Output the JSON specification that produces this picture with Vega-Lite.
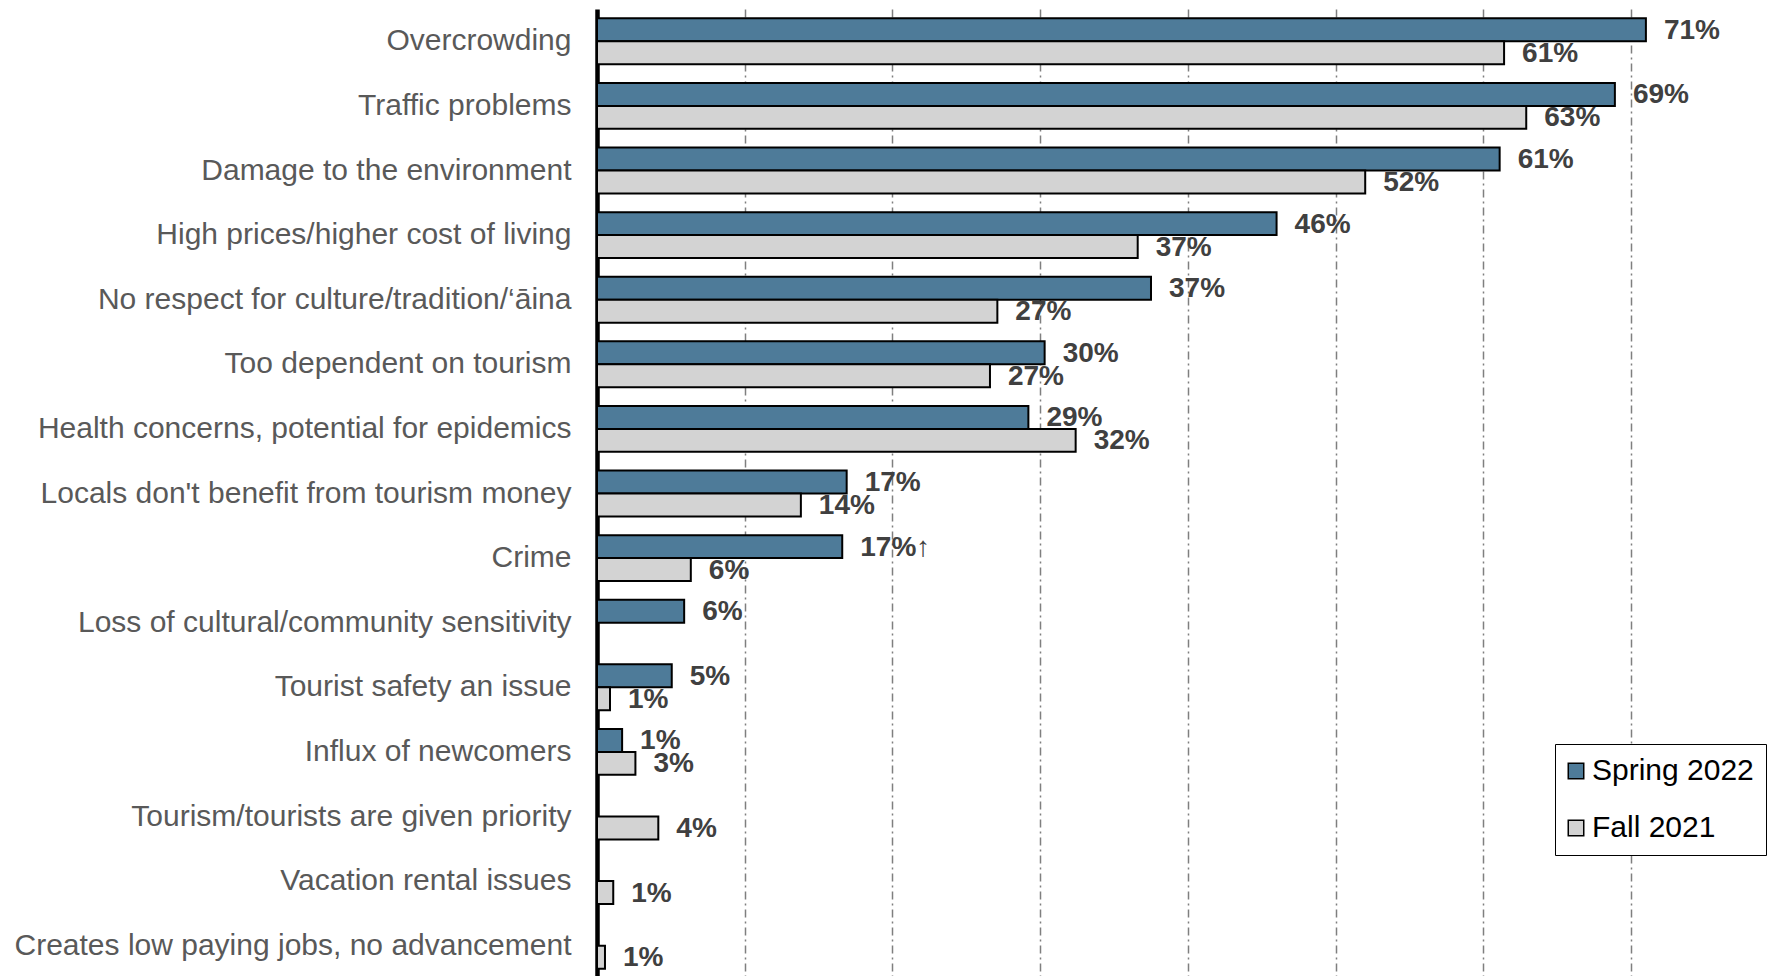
{
  "$schema": "https://vega.github.io/schema/vega-lite/v6.json",
  "width": 1173,
  "height": 969,
  "autosize": {"type": "none"},
  "padding": {"left": 597, "top": 9, "right": 0, "bottom": 0},
  "background": "white",
  "config": {
    "view": {"stroke": null},
    "font": "Liberation Sans",
    "legend": {
      "orient": "none",
      "legendX": 958,
      "legendY": 735,
      "title": null,
      "strokeColor": "black",
      "fillColor": "white",
      "padding": 12,
      "symbolType": "square",
      "symbolSize": 240,
      "symbolOffset": -6,
      "symbolStrokeColor": "black",
      "symbolStrokeWidth": 1.5,
      "labelFontSize": 30,
      "labelColor": "black",
      "labelOffset": 1,
      "rowPadding": 27,
      "labelLimit": 400
    }
  },
  "data": {
    "values": [
      {"issue": "Overcrowding", "wave": "Spring 2022", "pct": 71.0, "label": "71%"},
      {"issue": "Overcrowding", "wave": "Fall 2021", "pct": 61.4, "label": "61%"},
      {"issue": "Traffic problems", "wave": "Spring 2022", "pct": 68.9, "label": "69%"},
      {"issue": "Traffic problems", "wave": "Fall 2021", "pct": 62.9, "label": "63%"},
      {"issue": "Damage to the environment", "wave": "Spring 2022", "pct": 61.1, "label": "61%"},
      {"issue": "Damage to the environment", "wave": "Fall 2021", "pct": 52.0, "label": "52%"},
      {"issue": "High prices/higher cost of living", "wave": "Spring 2022", "pct": 46.0, "label": "46%"},
      {"issue": "High prices/higher cost of living", "wave": "Fall 2021", "pct": 36.6, "label": "37%"},
      {"issue": "No respect for culture/tradition/‘āina", "wave": "Spring 2022", "pct": 37.5, "label": "37%"},
      {"issue": "No respect for culture/tradition/‘āina", "wave": "Fall 2021", "pct": 27.1, "label": "27%"},
      {"issue": "Too dependent on tourism", "wave": "Spring 2022", "pct": 30.3, "label": "30%"},
      {"issue": "Too dependent on tourism", "wave": "Fall 2021", "pct": 26.6, "label": "27%"},
      {"issue": "Health concerns, potential for epidemics", "wave": "Spring 2022", "pct": 29.2, "label": "29%"},
      {"issue": "Health concerns, potential for epidemics", "wave": "Fall 2021", "pct": 32.4, "label": "32%"},
      {"issue": "Locals don't benefit from tourism money", "wave": "Spring 2022", "pct": 16.9, "label": "17%"},
      {"issue": "Locals don't benefit from tourism money", "wave": "Fall 2021", "pct": 13.8, "label": "14%"},
      {"issue": "Crime", "wave": "Spring 2022", "pct": 16.6, "label": "17%↑"},
      {"issue": "Crime", "wave": "Fall 2021", "pct": 6.35, "label": "6%"},
      {"issue": "Loss of cultural/community sensitivity", "wave": "Spring 2022", "pct": 5.9, "label": "6%"},
      {"issue": "Tourist safety an issue", "wave": "Spring 2022", "pct": 5.06, "label": "5%"},
      {"issue": "Tourist safety an issue", "wave": "Fall 2021", "pct": 0.88, "label": "1%"},
      {"issue": "Influx of newcomers", "wave": "Spring 2022", "pct": 1.7, "label": "1%"},
      {"issue": "Influx of newcomers", "wave": "Fall 2021", "pct": 2.6, "label": "3%"},
      {"issue": "Tourism/tourists are given priority", "wave": "Fall 2021", "pct": 4.15, "label": "4%"},
      {"issue": "Vacation rental issues", "wave": "Fall 2021", "pct": 1.1, "label": "1%"},
      {"issue": "Creates low paying jobs, no advancement", "wave": "Fall 2021", "pct": 0.54, "label": "1%"}
    ]
  },
  "encoding": {
    "y": {
      "field": "issue",
      "type": "nominal",
      "sort": [
        "Overcrowding",
        "Traffic problems",
        "Damage to the environment",
        "High prices/higher cost of living",
        "No respect for culture/tradition/‘āina",
        "Too dependent on tourism",
        "Health concerns, potential for epidemics",
        "Locals don't benefit from tourism money",
        "Crime",
        "Loss of cultural/community sensitivity",
        "Tourist safety an issue",
        "Influx of newcomers",
        "Tourism/tourists are given priority",
        "Vacation rental issues",
        "Creates low paying jobs, no advancement"
      ],
      "scale": {"paddingInner": 0.29, "paddingOuter": 0.145},
      "axis": {
        "title": null,
        "labelFontSize": 30,
        "labelColor": "#595959",
        "labelPadding": 26,
        "ticks": false,
        "tickSize": 0,
        "domainColor": "black",
        "domainWidth": 4.5,
        "labelLimit": 800,
        "grid": false
      }
    },
    "yOffset": {
      "field": "wave",
      "type": "nominal",
      "sort": ["Spring 2022", "Fall 2021"],
      "scale": {"paddingInner": 0, "paddingOuter": 0}
    },
    "x": {
      "field": "pct",
      "type": "quantitative",
      "scale": {"domain": [0, 79.4], "nice": false, "zero": true},
      "axis": {
        "title": null,
        "orient": "top",
        "labels": false,
        "ticks": false,
        "domain": false,
        "grid": true,
        "values": [10, 20, 30, 40, 50, 60, 70],
        "gridColor": "#7f7f7f",
        "gridDash": [8, 4, 2, 4],
        "gridWidth": 1.5
      }
    }
  },
  "layer": [
    {
      "mark": {"type": "bar", "stroke": "black", "strokeWidth": 2},
      "encoding": {
        "color": {
          "field": "wave",
          "type": "nominal",
          "scale": {"domain": ["Spring 2022", "Fall 2021"], "range": ["#4E7B99", "#D3D3D3"]},
          "legend": {"title": null}
        }
      }
    },
    {
      "mark": {"type": "text", "align": "left", "baseline": "middle", "dx": 18, "dy": 1, "fontSize": 28, "fontWeight": "bold", "color": "#404040"},
      "encoding": {"text": {"field": "label", "type": "nominal"}}
    }
  ]
}
